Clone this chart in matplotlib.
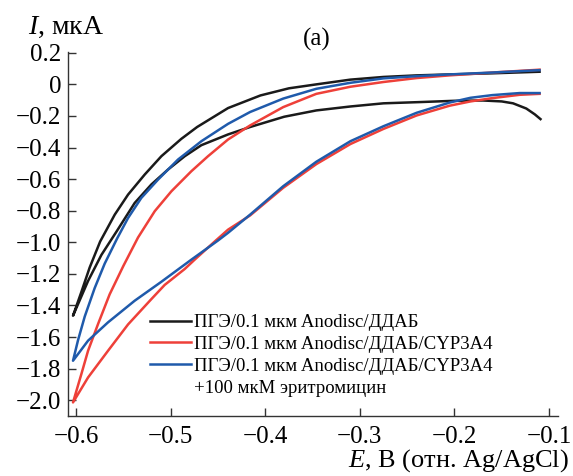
import numpy as np
import matplotlib
matplotlib.use('Agg')
import matplotlib.pyplot as plt
from matplotlib.lines import Line2D

plt.rcParams['font.family'] = ['Liberation Serif', 'DejaVu Serif']
plt.rcParams['mathtext.fontset'] = 'custom'
plt.rcParams['mathtext.rm'] = 'Liberation Serif'
plt.rcParams['mathtext.it'] = 'Liberation Serif:italic'

# ЦВА: верхняя и нижняя ветви каждой кривой, E в В, I в мкА
E_blk_up = [-0.6032, -0.5944, -0.5856, -0.5745, -0.5591, -0.5450, -0.5274, -0.5098,
            -0.4887, -0.4720, -0.4393, -0.4050, -0.3750, -0.3460, -0.3100, -0.2750,
            -0.2400, -0.2050, -0.1600, -0.1100]
I_blk_up = [-1.465, -1.315, -1.160, -0.995, -0.825, -0.698, -0.571, -0.455,
            -0.345, -0.270, -0.150, -0.070, -0.025, 0.000, 0.030, 0.047,
            0.057, 0.063, 0.070, 0.080]
E_blk_dn = [-0.6032, -0.5996, -0.5873, -0.5732, -0.5570, -0.5380, -0.5204, -0.5027,
            -0.4851, -0.4675, -0.4393, -0.4160, -0.3800, -0.3460, -0.3100, -0.2750,
            -0.2360, -0.2000, -0.1700, -0.1500, -0.1380, -0.1240, -0.1150, -0.1090]
I_blk_dn = [-1.465, -1.415, -1.245, -1.080, -0.930, -0.751, -0.634, -0.539,
            -0.455, -0.385, -0.317, -0.270, -0.205, -0.165, -0.140, -0.120,
            -0.112, -0.104, -0.102, -0.108, -0.120, -0.153, -0.190, -0.220]

E_red_up = [-0.6032, -0.5944, -0.5873, -0.5767, -0.5645, -0.5500, -0.5345, -0.5168,
            -0.4992, -0.4781, -0.4605, -0.4393, -0.4160, -0.3810, -0.3460, -0.3100,
            -0.2750, -0.2400, -0.2050, -0.1600, -0.1100]
I_red_up = [-2.014, -1.835, -1.687, -1.517, -1.330, -1.150, -0.970, -0.803,
            -0.677, -0.550, -0.455, -0.349, -0.260, -0.144, -0.060, -0.015,
            0.015, 0.040, 0.057, 0.075, 0.093]
E_red_dn = [-0.6032, -0.5873, -0.5662, -0.5450, -0.5204, -0.5063, -0.4851, -0.4746,
            -0.4534, -0.4393, -0.4160, -0.3810, -0.3460, -0.3100, -0.2750, -0.2400,
            -0.2050, -0.1830, -0.1600, -0.1310, -0.1100]
I_red_dn = [-2.014, -1.856, -1.687, -1.520, -1.360, -1.270, -1.169, -1.110,
            -0.995, -0.920, -0.830, -0.655, -0.505, -0.378, -0.282, -0.197,
            -0.135, -0.108, -0.087, -0.066, -0.060]

E_blu_up = [-0.6032, -0.5979, -0.5908, -0.5803, -0.5697, -0.5565, -0.5450, -0.5310,
            -0.5133, -0.4922, -0.4675, -0.4393, -0.4160, -0.3810, -0.3460, -0.3100,
            -0.2750, -0.2400, -0.2050, -0.1600, -0.1100]
I_blu_up = [-1.750, -1.620, -1.470, -1.290, -1.135, -0.975, -0.846, -0.719,
            -0.603, -0.476, -0.360, -0.250, -0.175, -0.090, -0.028, 0.010,
            0.038, 0.052, 0.063, 0.075, 0.090]
E_blu_dn = [-0.6032, -0.5873, -0.5662, -0.5380, -0.5098, -0.4781, -0.4500, -0.4393,
            -0.4160, -0.3810, -0.3460, -0.3100, -0.2750, -0.2400, -0.2050, -0.1830,
            -0.1600, -0.1310, -0.1100]
I_blu_dn = [-1.750, -1.623, -1.507, -1.370, -1.250, -1.110, -0.989, -0.940,
            -0.825, -0.645, -0.490, -0.360, -0.265, -0.180, -0.115, -0.085,
            -0.068, -0.055, -0.055]

labels = ['ПГЭ/0.1 мкм Anodisc/ДДАБ',
          'ПГЭ/0.1 мкм Anodisc/ДДАБ/CYP3A4',
          'ПГЭ/0.1 мкм Anodisc/ДДАБ/CYP3A4',
          '+100 мкМ эритромицин']
colors = ['#1a1a1a', '#ee4039', '#1f5aab']

xticks = [-0.6, -0.5, -0.4, -0.3, -0.2, -0.1]
xtick_labels = ['\u22120.6', '\u22120.5', '\u22120.4', '\u22120.3', '\u22120.2', '\u22120.1']
yticks = [0.2, 0, -0.2, -0.4, -0.6, -0.8, -1.0, -1.2, -1.4, -1.6, -1.8, -2.0]
ytick_labels = ['0.2', '0', '\u22120.2', '\u22120.4', '\u22120.6', '\u22120.8', '\u22121.0',
                '\u22121.2', '\u22121.4', '\u22121.6', '\u22121.8', '\u22122.0']

W, H = 573, 476
fig = plt.figure(figsize=(W / 100, H / 100), dpi=100)
ax = fig.add_axes([68 / W, 60 / H, 490 / W, 364 / H])

series = [(E_blk_up, I_blk_up, E_blk_dn, I_blk_dn),
          (E_red_up, I_red_up, E_red_dn, I_red_dn),
          (E_blu_up, I_blu_up, E_blu_dn, I_blu_dn)]
handles = []
for (eu, iu, ed, idn), c, lab in zip(series, colors, labels):
    # замкнутая петля: верхняя ветвь к вершине, затем нижняя обратно
    e = np.concatenate([np.array(eu)[::-1], np.array(ed)[1:]])
    i = np.concatenate([np.array(iu)[::-1], np.array(idn)[1:]])
    ln, = ax.plot(e, i, color=c, lw=1.8, solid_joinstyle='round', label=lab)
    handles.append(ln)
handles.append(Line2D([], [], color='none'))

ax.set_xlim(-0.6085, -0.0905)
ax.set_ylim(-2.1, 0.205)
ax.set_xticks(xticks)
ax.set_xticklabels(xtick_labels)
ax.set_yticks(yticks)
ax.set_yticklabels(ytick_labels)
ax.tick_params(direction='in', length=6, width=1, labelsize=18, color='#333333')
ax.tick_params(axis='x', pad=7)
ax.tick_params(axis='y', pad=5)
for s in ['top', 'right']:
    ax.spines[s].set_visible(False)
for s in ['left', 'bottom']:
    ax.spines[s].set_linewidth(1.0)
    ax.spines[s].set_color('#333333')

leg = ax.legend(handles, labels, loc='upper left',
                bbox_to_anchor=(150 / W, 1 - 314 / H), bbox_transform=fig.transFigure,
                frameon=False, fontsize=13.5, handlelength=2.2, handletextpad=0.15,
                labelspacing=0.25, borderpad=0, borderaxespad=0)

fig.text(28 / W, 1 - 34 / H, r'$I$, мкА', fontsize=20, ha='left', va='baseline')
fig.text(569 / W, 1 - 467 / H, r'$E$, В (отн. Ag/AgCl)', fontsize=19,
         ha='right', va='baseline')
fig.text(317 / W, 1 - 39 / H, '(a)', fontsize=18, ha='center', va='center')

fig.savefig('out.png', dpi=100)
